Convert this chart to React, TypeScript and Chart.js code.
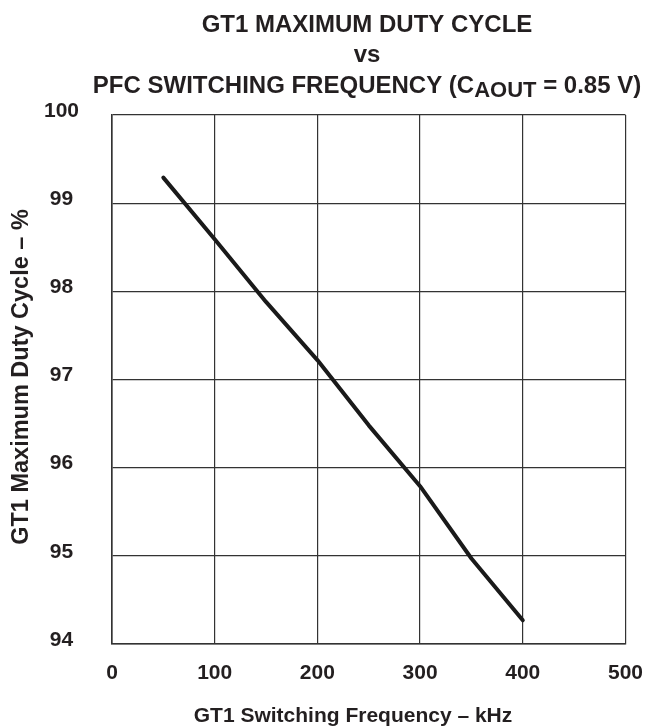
import React, { useEffect, useRef } from 'react';
import { Chart, registerables } from 'chart.js';

Chart.register(...registerables);

// ---- data ----
const frequencyKHz = [50, 100, 150, 200, 250, 300, 350, 400];
const maxDutyPct = [99.29, 98.59, 97.88, 97.22, 96.48, 95.79, 94.97, 94.27];
const xTickValues = [0, 100, 200, 300, 400, 500];
const yTickValues = [94, 95, 96, 97, 98, 99, 100];

const titleLine1 = 'GT1 MAXIMUM DUTY CYCLE';
const titleLine2 = 'vs';
const titleLine3Main = 'PFC SWITCHING FREQUENCY (C';
const titleLine3Sub = 'AOUT';
const titleLine3End = ' = 0.85 V)';
const xAxisTitle = 'GT1 Switching Frequency – kHz';
const yAxisTitle = 'GT1 Maximum Duty Cycle – %';

const FONT = '"Liberation Sans", Arial, Helvetica, sans-serif';
const INK = '#231f20';

const textPlugin = {
  id: 'textPlugin',
  afterDraw(chart: any) {
    const ctx = chart.ctx as CanvasRenderingContext2D;
    ctx.save();
    ctx.fillStyle = INK;
    ctx.textBaseline = 'middle';
    const cx = 367;
    ctx.font = `bold 24px ${FONT}`;
    ctx.textAlign = 'center';
    ctx.fillText(titleLine1, cx, 25);
    ctx.fillText(titleLine2, cx, 55);
    // third line with subscript
    ctx.textAlign = 'left';
    const mainFont = `bold 24px ${FONT}`;
    const subFont = `bold 22px ${FONT}`;
    ctx.font = mainFont;
    const wa = ctx.measureText(titleLine3Main).width;
    const wc = ctx.measureText(titleLine3End).width;
    ctx.font = subFont;
    const wb = ctx.measureText(titleLine3Sub).width;
    let x = cx - (wa + wb + wc) / 2;
    ctx.font = mainFont;
    ctx.fillText(titleLine3Main, x, 86);
    x += wa;
    ctx.font = subFont;
    ctx.fillText(titleLine3Sub, x, 91);
    x += wb;
    ctx.font = mainFont;
    ctx.fillText(titleLine3End, x, 86);

    // x axis title
    ctx.textAlign = 'center';
    ctx.font = `bold 21px ${FONT}`;
    ctx.fillText(xAxisTitle, 353, 716);

    // y axis title
    ctx.translate(22, 377);
    ctx.rotate(-Math.PI / 2);
    ctx.font = `bold 23.5px ${FONT}`;
    ctx.fillText(yAxisTitle, 0, 0);
    ctx.restore();
  },
};

export default function App() {
  const canvasRef = useRef<HTMLCanvasElement | null>(null);

  useEffect(() => {
    if (!canvasRef.current) return;
    const tickFont = { family: FONT, size: 21, weight: 'bold' as const };
    const gridColor = '#333333';
    const chart = new Chart(canvasRef.current, {
      type: 'line',
      data: {
        datasets: [
          {
            data: frequencyKHz.map((f, i) => ({ x: f, y: maxDutyPct[i] })),
            borderColor: '#1a1a1a',
            borderWidth: 4,
            pointRadius: 0,
            tension: 0,
            fill: false,
            borderCapStyle: 'round',
            borderJoinStyle: 'round',
          },
        ],
      },
      options: {
        responsive: false,
        animation: false,
        devicePixelRatio: 1,
        layout: { padding: { top: 115, right: 19, left: 0, bottom: 0 } },
        plugins: {
          legend: { display: false },
          title: { display: false },
          tooltip: { enabled: false },
        },
        scales: {
          x: {
            type: 'linear',
            min: 0,
            max: 500,
            afterBuildTicks: (s: any) => {
              s.ticks = xTickValues.map((v) => ({ value: v }));
            },
            afterFit: (s: any) => {
              s.height = 82;
            },
            ticks: {
              font: tickFont,
              color: INK,
              padding: 17,
              maxRotation: 0,
              autoSkip: false,
            },
            grid: { color: gridColor, lineWidth: 1.2, drawTicks: false },
            border: { color: '#333', width: 1.6 },
          },
          y: {
            type: 'linear',
            min: 94,
            max: 100,
            afterBuildTicks: (s: any) => {
              s.ticks = yTickValues.map((v) => ({ value: v }));
            },
            afterFit: (s: any) => {
              s.width = 112;
            },
            ticks: {
              font: tickFont,
              color: INK,
              padding: 33,
              crossAlign: 'center',
              labelOffset: -4,
              autoSkip: false,
            },
            grid: { color: gridColor, lineWidth: 1.2, drawTicks: false },
            border: { color: '#333', width: 1.6 },
          },
        },
      },
      plugins: [textPlugin],
    });
    return () => chart.destroy();
  }, []);

  return (
    <div style={{ position: 'absolute', left: 0, top: 0, width: 660, height: 726, background: '#fff' }}>
      <canvas ref={canvasRef} width={660} height={726} style={{ width: 660, height: 726, display: 'block' }} />
    </div>
  );
}
